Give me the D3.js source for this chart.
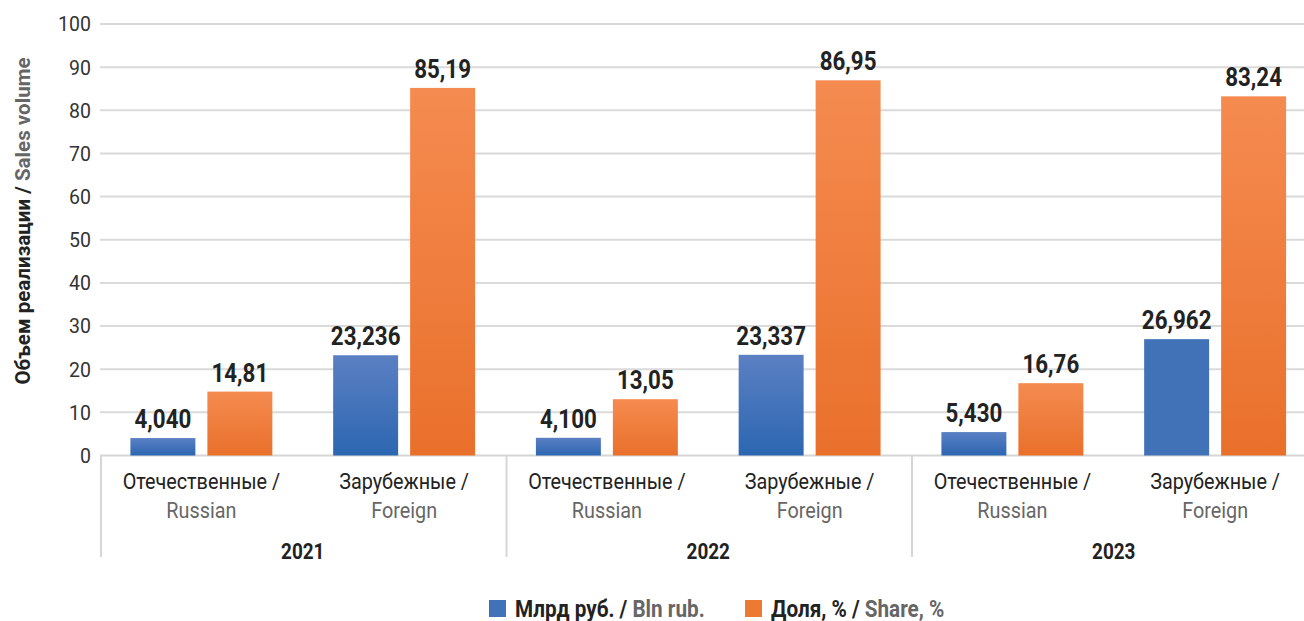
<!DOCTYPE html>
<html><head><meta charset="utf-8">
<script src="https://cdn.jsdelivr.net/npm/d3@7"></script>
<style>
html,body{margin:0;padding:0;background:#fff;}
svg{display:block;}
text{font-family:"Roboto","Liberation Sans",sans-serif;}
</style></head>
<body><svg id="chart" width="1304" height="621"></svg>
<script>
const years = ["2021", "2022", "2023"];
const categoriesRu = ["Отечественные /", "Зарубежные /"];
const categoriesEn = ["Russian", "Foreign"];
const seriesNames = ["Млрд руб. / ", "Доля, % / "];
const seriesNamesEn = ["Bln rub.", "Share, %"];
const salesBlnRub = [4.040, 23.236, 4.100, 23.337, 5.430, 26.962];
const sharePct = [14.81, 85.19, 13.05, 86.95, 16.76, 83.24];
const yTicks = [0, 10, 20, 30, 40, 50, 60, 70, 80, 90, 100];

const svg = d3.select("#chart");
const W = 1304, H = 621;
const left = 100, right = 1316.5, y0 = 455.5, yTop = 24;
const SX = 0.9, SXB = 0.86;
const tr = (x, yy, s) => `translate(${x},${yy}) scale(${s},1)`;

const loc = d3.formatLocale({decimal: ",", thousands: " ", grouping: [3], currency: ["", ""]});
const fmt3 = loc.format(".3f"), fmt2 = loc.format(".2f");

const y = d3.scaleLinear().domain([0, 100]).range([y0, yTop]);
const xYear = d3.scaleBand().domain(years).range([left, right]);
const xCat = d3.scaleBand().domain([0, 1]).range([0, xYear.bandwidth()]);
const xSer = d3.scaleBand().domain([0, 1]).range([0, xCat.bandwidth()]).paddingInner(0.156).paddingOuter(0.395);

const defs = svg.append("defs");
function grad(id, c1, c2) {
  const g = defs.append("linearGradient").attr("id", id).attr("x1", 0).attr("y1", 0).attr("x2", 0).attr("y2", 1);
  g.append("stop").attr("offset", "0%").attr("stop-color", c1);
  g.append("stop").attr("offset", "100%").attr("stop-color", c2);
}
grad("gBlue", "#5b80c3", "#2c66b1");
grad("gOrange", "#f58b50", "#e9702b");
const flatColors = ["#4172b8", "#ed7a33"];
const legendColors = ["#4172b8", "#ed7a33"];

// gridlines
svg.append("g").selectAll("line").data(yTicks.filter(d => d > 0)).join("line")
  .attr("x1", left).attr("x2", W).attr("y1", d => y(d)).attr("y2", d => y(d))
  .attr("stroke", "#dadada").attr("stroke-width", 2);

// y tick labels
svg.append("g").selectAll("text").data(yTicks).join("text")
  .attr("transform", d => tr(91, y(d), 0.93)).attr("dy", "0.35em").attr("text-anchor", "end")
  .attr("font-size", 21).attr("fill", "#333").text(d => d);

// zero axis line
svg.append("line").attr("x1", left).attr("x2", W).attr("y1", y0).attr("y2", y0)
  .attr("stroke", "#d6d6d6").attr("stroke-width", 2);

// group separators
const seps = years.map(yr => xYear(yr)).concat([right]);
svg.append("g").selectAll("line").data(seps).join("line")
  .attr("x1", d => d + 1).attr("x2", d => d + 1).attr("y1", y0).attr("y2", 557)
  .attr("stroke", "#d6d6d6").attr("stroke-width", 2);

// bars
const rows = [];
years.forEach((yr, yi) => {
  [0, 1].forEach(ci => {
    const i = yi * 2 + ci;
    rows.push({yr, ci, s: 0, v: salesBlnRub[i], label: fmt3(salesBlnRub[i])});
    rows.push({yr, ci, s: 1, v: sharePct[i], label: fmt2(sharePct[i])});
  });
});
const bx = d => xYear(d.yr) + xCat(d.ci) + xSer(d.s);
svg.append("g").selectAll("rect").data(rows).join("rect")
  .attr("x", bx).attr("width", xSer.bandwidth())
  .attr("y", d => y(d.v)).attr("height", d => y0 - y(d.v))
  .attr("fill", d => (d.s === 0 && d.yr === "2023" && d.ci === 1) ? flatColors[0] : (d.s === 0 ? "url(#gBlue)" : "url(#gOrange)"));

svg.append("g").selectAll("text").data(rows).join("text")
  .attr("transform", d => tr(bx(d) + xSer.bandwidth() / 2, y(d.v) - 10, SXB))
  .attr("text-anchor", "middle").attr("font-size", 26).attr("font-weight", "bold")
  .attr("fill", "#222").text(d => d.label);

// category labels
const catG = svg.append("g");
years.forEach(yr => {
  [0, 1].forEach(ci => {
    const cx = xYear(yr) + xCat(ci) + xCat.bandwidth() / 2;
    catG.append("text").attr("transform", tr(cx, 489, SX)).attr("text-anchor", "middle")
      .attr("font-size", 22).attr("fill", "#222").text(categoriesRu[ci]);
    catG.append("text").attr("transform", tr(cx, 518, SX)).attr("text-anchor", "middle")
      .attr("font-size", 22).attr("fill", "#666").text(categoriesEn[ci]);
  });
});
svg.append("g").selectAll("text").data(years).join("text")
  .attr("transform", d => tr(xYear(d) + xYear.bandwidth() / 2, 559, SXB)).attr("text-anchor", "middle")
  .attr("font-size", 22).attr("font-weight", "bold").attr("fill", "#222").text(d => d);

// y axis title
const yt = svg.append("text").attr("transform", "translate(30,221) rotate(-90) scale(0.98,1)")
  .attr("text-anchor", "middle").attr("font-size", 21).attr("font-weight", "bold");
yt.append("tspan").attr("fill", "#222").text("Объем реализации / ");
yt.append("tspan").attr("fill", "#666").text("Sales volume");

// legend
const legX = [489, 745];
seriesNames.forEach((n, i) => {
  svg.append("rect").attr("x", legX[i]).attr("y", 600).attr("width", 17).attr("height", 17).attr("fill", legendColors[i]);
  const t = svg.append("text").attr("transform", tr(legX[i] + 26, 617, 0.9)).attr("font-size", 23).attr("font-weight", "bold");
  t.append("tspan").attr("fill", "#222").text(n);
  t.append("tspan").attr("fill", "#666").text(seriesNamesEn[i]);
});
</script></body></html>
